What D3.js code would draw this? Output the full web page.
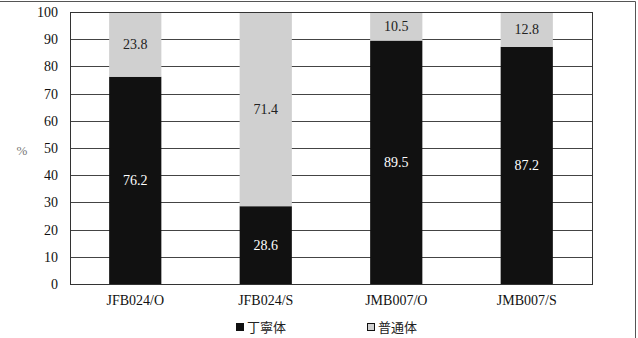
<!DOCTYPE html>
<html><head><meta charset="utf-8">
<script src="https://cdn.jsdelivr.net/npm/d3@7"></script>
<style>body{margin:0;background:#fff}svg{display:block}</style>
</head><body>
<svg id="c" width="638" height="338"></svg>
<script>
const categories = ["JFB024/O","JFB024/S","JMB007/O","JMB007/S"];
const politeValues = [76.2, 28.6, 89.5, 87.2];
const plainValues = [23.8, 71.4, 10.5, 12.8];
const seriesNames = ["丁寧体","普通体"];
const yTicks = [0,10,20,30,40,50,60,70,80,90,100];

const svg = d3.select("#c");
const W=638,H=338;
const m={l:70,r:46,t:12,b:54};
const x=d3.scaleBand().domain(categories).range([m.l,W-m.r]).paddingInner(0.6).paddingOuter(0.3);
const y=d3.scaleLinear().domain([0,100]).range([H-m.b,m.t]);
const serif="'Liberation Serif','Times New Roman',serif";

// outer border (top & right)
svg.append("line").attr("x1",0).attr("x2",635.5).attr("y1",1.5).attr("y2",1.5).attr("stroke","#555");
svg.append("line").attr("x1",635.5).attr("x2",635.5).attr("y1",1.5).attr("y2",H).attr("stroke","#555");

// grid
svg.append("g").selectAll("line").data(yTicks).join("line")
  .attr("x1",m.l).attr("x2",W-m.r).attr("y1",d=>Math.round(y(d))+0.5).attr("y2",d=>Math.round(y(d))+0.5)
  .attr("stroke","#444").attr("stroke-width",1);

// stacked data
const data=categories.map((c,i)=>({c,p:politeValues[i],q:plainValues[i]}));
const g=svg.append("g");
g.selectAll("rect.p").data(data).join("rect").attr("class","p")
  .attr("x",d=>x(d.c)).attr("width",x.bandwidth())
  .attr("y",d=>y(d.p)).attr("height",d=>y(0)-y(d.p)).attr("fill","#111");
g.selectAll("rect.q").data(data).join("rect").attr("class","q")
  .attr("x",d=>x(d.c)).attr("width",x.bandwidth())
  .attr("y",d=>y(d.p+d.q)).attr("height",d=>y(d.p)-y(d.p+d.q)).attr("fill","#d0d0d0");

// labels
g.selectAll("text.p").data(data).join("text")
  .attr("x",d=>x(d.c)+x.bandwidth()/2).attr("y",d=>y(d.p/2)).attr("dy","0.35em")
  .attr("text-anchor","middle").attr("font-family",serif).attr("font-size",14).attr("fill","#fff").text(d=>d.p.toFixed(1));
g.selectAll("text.q").data(data).join("text")
  .attr("x",d=>x(d.c)+x.bandwidth()/2).attr("y",d=>y(d.p+d.q/2)).attr("dy","0.35em")
  .attr("text-anchor","middle").attr("font-family",serif).attr("font-size",14).attr("fill","#222").text(d=>d.q.toFixed(1));

// frame
svg.append("rect").attr("x",m.l+0.5).attr("y",Math.round(y(100))+0.5).attr("width",W-m.r-m.l).attr("height",Math.round(y(0))-Math.round(y(100)))
  .attr("fill","none").attr("stroke","#333");

// axes
const ya=svg.append("g").attr("transform",`translate(${m.l},0)`).call(d3.axisLeft(y).tickValues(yTicks).tickSize(0).tickPadding(12));
ya.select(".domain").remove();
ya.selectAll("text").attr("font-family",serif).attr("font-size",14).attr("fill","#111");
const xa=svg.append("g").attr("transform",`translate(0,${y(0)})`).call(d3.axisBottom(x).tickSize(0).tickPadding(11));
xa.select(".domain").remove();
xa.selectAll("text").attr("font-family",serif).attr("font-size",14).attr("fill","#111");

svg.append("text").attr("x",22).attr("y",150).attr("dy","0.35em").attr("text-anchor","middle")
  .attr("font-family",serif).attr("font-size",13).attr("fill","#777").text("%");

// legend
const leg=[{n:seriesNames[0],f:"#111",x:236},{n:seriesNames[1],f:"#d0d0d0",x:367}];
const lg=svg.append("g");
lg.selectAll("rect").data(leg).join("rect").attr("x",d=>d.x+0.5).attr("y",323.5).attr("width",7).attr("height",7)
  .attr("fill",d=>d.f).attr("stroke","#111");
lg.selectAll("text").data(leg).join("text").attr("x",d=>d.x+11).attr("y",327).attr("dy","0.35em")
  .attr("font-family","'Noto Sans CJK JP',sans-serif").attr("font-size",13).attr("fill","#222").text(d=>d.n);
</script>
</body></html>
